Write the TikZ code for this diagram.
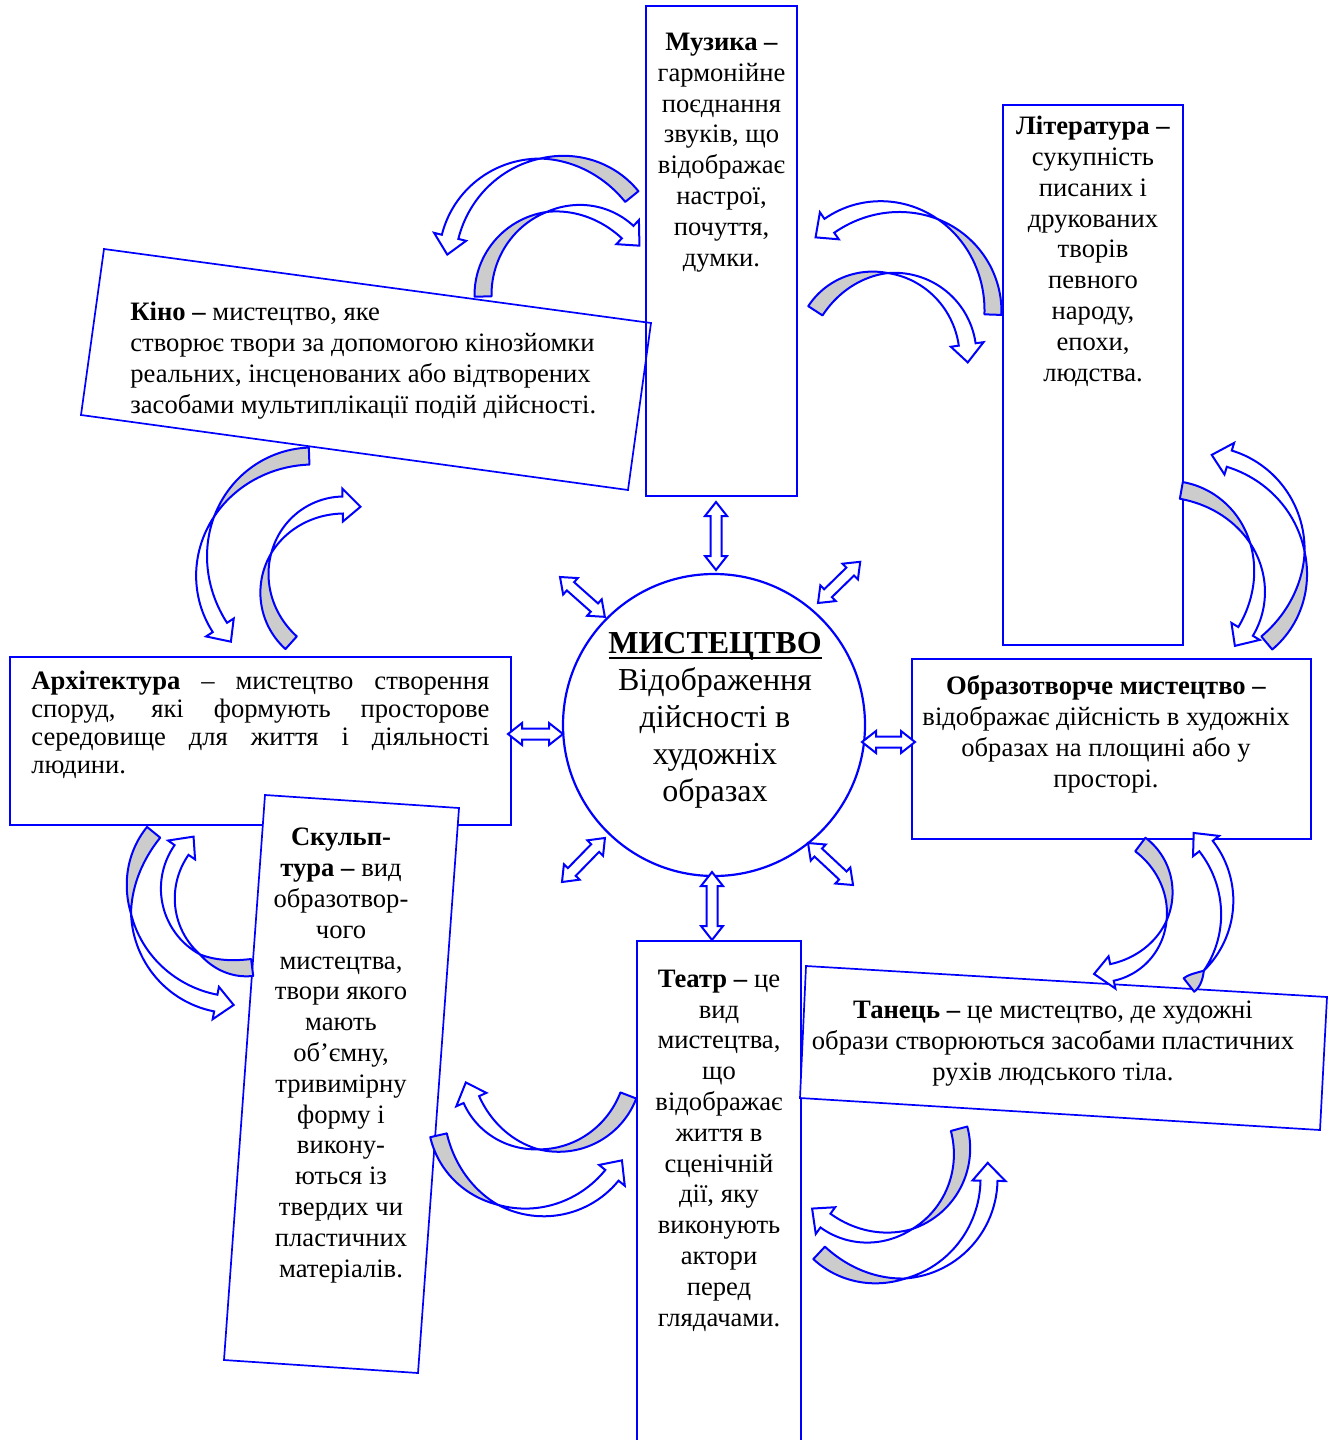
\documentclass[tikz,border=0pt]{standalone}
\usepackage{fontspec}
\setmainfont{Liberation Serif}
\tikzset{
  boxline/.style={draw=blue, line width=0.85pt},
  boxfill/.style={draw=blue, fill=white, line width=0.85pt},
  cback/.style={draw=blue, fill=black!20, line width=1pt, line join=round},
  cfront/.style={draw=blue, fill=white, line width=1pt, line join=miter},
  dbla/.style={draw=blue, fill=white, line width=1pt},
  txt/.style={font=\fontsize{13.3}{15.4}\selectfont, inner sep=0pt, align=center, anchor=base},
  bigtxt/.style={font=\fontsize{16}{18.5}\selectfont, inner sep=0pt, align=center, anchor=base},
}
\def\cw{8.5}
\def\ce{8}
\def\cl{18}
% curved arrow: cx cy R tail-angle twist-angle head-angle (image angles, y down)
\newcommand\carr[6]{%
\begin{scope}[shift={(#1,#2)}]
\pgfmathsetmacro\cR{#3}%
\pgfmathsetmacro\cS{(#6>#4)?1:-1}%
\pgfmathsetmacro\cTip{#6+\cS*\cl/\cR*57.2958}%
\filldraw[cback] plot[domain=#4:#5,samples=30] (\x:{\cR+\cw*sin(90*(\x-(#5))/((#4)-(#5)))}) -- plot[domain=#5:#4,samples=30] (\x:{\cR-\cw*sin(90*(\x-(#5))/((#4)-(#5)))}) -- cycle;
\filldraw[cfront] plot[domain=#5:#6,samples=30] (\x:{\cR+\cw*sin(90*(\x-(#5))/((#6)-(#5)))}) -- (#6:{\cR+\cw+\ce}) -- (\cTip:\cR) -- (#6:{\cR-\cw-\ce}) -- plot[domain=#6:#5,samples=30] (\x:{\cR-\cw*sin(90*(\x-(#5))/((#6)-(#5)))}) -- cycle;
\end{scope}}
% straight double arrow: x y angle length
\newcommand\dbl[4]{%
\begin{scope}[shift={(#1,#2)}, rotate={-(#3)}]
\filldraw[dbla] (0,0) -- (14,11) -- (14,5.5) -- ({#4-14},5.5) -- ({#4-14},11) -- (#4,0) -- ({#4-14},-11) -- ({#4-14},-5.5) -- (14,-5.5) -- (14,-11) -- cycle;
\end{scope}}
\begin{document}
\begin{tikzpicture}[x=0.5pt, y=-0.5pt]
\useasboundingbox (0,0) rectangle (1333,1440);
\fill[white] (0,0) rectangle (1333,1440);

% boxes
\draw[boxline] (646,6) rectangle (797,496);
\draw[boxline] (1003,105) rectangle (1183,645);
\draw[boxline] (104,249) -- (651,323) -- (628,490) -- (81,415) -- cycle;
\draw[boxline] (10,657) rectangle (511,825);
\draw[boxfill] (265,795) -- (459,808) -- (418,1373) -- (224,1360) -- cycle;
\draw[boxline] (912,659) rectangle (1311,839);
\draw[boxfill] (637,941) rectangle (801,1450);
\draw[boxfill] (806,966) -- (1327,997) -- (1320,1130) -- (800,1098) -- cycle;
\node[circle, draw=blue, line width=1.1pt, minimum size=151pt, inner sep=0pt] (art) at (714,725) {};

% texts (anchor = baseline of the last line)
\node[txt] (music) at (721.5,266) {\textbf{Музика –}\\гармонійне\\поєднання\\звуків, що\\відображає\\настрої,\\почуття,\\думки.};
\node[txt] (lit) at (1093,381) {\textbf{Література –}\\сукупність\\писаних і\\друкованих\\творів\\певного\\народу,\\епохи,\\людства.};
\node[txt, align=left, anchor=base west] (kino) at (130,413) {\textbf{Кіно –} мистецтво, яке\\створює твори за допомогою кінозйомки\\реальних, інсценованих або відтворених\\засобами мультиплікації подій дійсності.};
\node[txt, align=left, anchor=base west, font=\fontsize{13.3}{13.85}\selectfont] (arch) at (31,773) {\makebox[229pt][s]{\textbf{Архітектура} – мистецтво створення}\\\makebox[229pt][s]{споруд, які формують просторове}\\\makebox[229pt][s]{середовище для життя і діяльності}\\людини.};
\node[txt] (obraz) at (1106,787) {\textbf{Образотворче мистецтво –}\\відображає дійсність в художніх\\образах на площині або у\\просторі.};
\node[txt] (sculpt) at (341,1277) {\textbf{Скульп-}\\\textbf{тура –} вид\\образотвор-\\чого\\мистецтва,\\твори якого\\мають\\об’ємну,\\тривимірну\\форму і\\викону-\\ються із\\твердих чи\\пластичних\\матеріалів.};
\node[txt] (theatre) at (719,1326) {\textbf{Театр –} це\\вид\\мистецтва,\\що\\відображає\\життя в\\сценічній\\дії, яку\\виконують\\актори\\перед\\глядачами.};
\node[txt] (dance) at (1053,1080) {\textbf{Танець –} це мистецтво, де художні\\образи створюються засобами пластичних\\рухів людського тіла.};
\node[bigtxt] (arttext) at (715,801) {\textbf{МИСТЕЦТВО}\\Відображення\\дійсності в\\художніх\\образах};
\coordinate (ulA) at (609,658);
\coordinate (ulB) at (822,658);
\draw[line width=1pt] (ulA) -- (ulB);

% straight double arrows
\dbl{716}{502}{90}{68}
\dbl{712}{872}{90}{68}
\dbl{508}{734}{0}{55}
\dbl{862}{742}{0}{53}
\dbl{560}{577}{41.6}{60}
\dbl{818}{603}{-44.3}{59}
\dbl{562}{882}{-45.7}{61.5}
\dbl{808}{843}{43}{61.6}

% curved arrows
\carr{551}{262}{104}{-39}{-96}{-166}
\carr{569}{295}{86}{-181}{-105}{-47}
\carr{889}{311}{104}{2}{-62}{-125}
\carr{885}{356}{83}{-147}{-88}{-8}
\carr{1198}{561}{107}{50}{-5}{-73}
\carr{1165}{583}{94}{-80}{-25}{31}
\carr{313}{567}{111}{-92}{-153}{-213}
\carr{344}{584}{79}{132}{203}{269}
\carr{236}{899}{106}{219}{172}{101}
\carr{243}{893}{75}{83}{125}{215}
\carr{549}{1065}{85}{21}{97}{156}
\carr{535}{1113}{99}{167}{112}{39}
\carr{876}{1151}{86}{-15}{65}{126}
\carr{888}{1179}{101}{133}{80}{1}
\carr{1097}{902}{72}{-53}{15}{78}
\carr{1128}{907}{99}{52}{40}{-38}
\end{tikzpicture}
\end{document}
